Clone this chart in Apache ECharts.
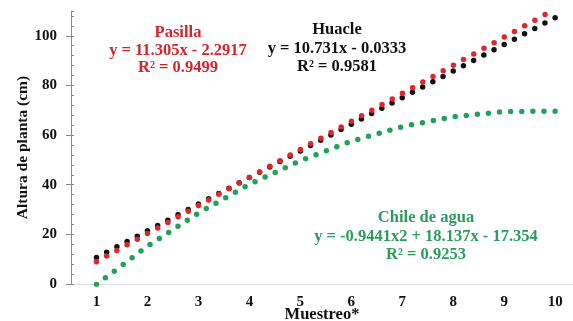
<!DOCTYPE html>
<html>
<head>
<meta charset="utf-8">
<script src="https://cdn.jsdelivr.net/npm/echarts@6/dist/echarts.min.js"></script>
<style>html,body{margin:0;padding:0;background:#fff}#c{width:573px;height:321px}</style>
</head>
<body>
<div id="c"></div>
<script>
// Data
const muestreo = [1, 2, 3, 4, 5, 6, 7, 8, 9, 10];
const huacle = [10.7, 21.4, 32.2, 42.9, 53.6, 64.4, 75.1, 85.8, 96.5, 107.3];
const pasilla = [9.0, 20.3, 31.6, 42.9, 54.2, 65.5, 76.8, 88.1, 99.5, 110.8];
const chileAgua = [-0.2, 15.2, 28.6, 40.1, 49.7, 57.5, 63.4, 67.4, 69.5, 69.6];
const yTicks = [0, 20, 40, 60, 80, 100];
const pasillaText = ['Pasilla', 'y = 11.305x - 2.2917', 'R² = 0.9499'];
const huacleText = ['Huacle', 'y = 10.731x - 0.0333', 'R² = 0.9581'];
const chileText = ['Chile de agua', 'y = -0.9441x2 + 18.137x - 17.354', 'R² = 0.9253'];

const FONT = '"Liberation Serif", "DejaVu Serif", serif';
const RED = '#e0262b', BLACK = '#111111', GREEN = '#21a25a';

function pts(ys) { return muestreo.map((x, i) => [x, ys[i]]); }
function dotted(name, ys, color, gap) {
  return {
    name, type: 'line', data: pts(ys), showSymbol: false, smooth: false,
    clip: true, silent: true,
    lineStyle: { color, width: 5.5, type: [0, gap], cap: 'round' }
  };
}
function block(lines, color, cx, y0, dy) {
  return lines.map((t, i) => ({
    type: 'text', x: cx, y: y0 + i * dy,
    style: { text: t, fill: color, font: 'bold 16.5px ' + FONT, textAlign: 'center', textVerticalAlign: 'middle' }
  }));
}

const chart = echarts.init(document.getElementById('c'), null, { renderer: 'canvas' });
chart.setOption({
  animation: false,
  backgroundColor: '#fff',
  grid: { left: 71, right: 0, top: 11, bottom: 37, containLabel: false, outerBoundsMode: 'none' },
  xAxis: {
    type: 'value', min: 0.5, max: 10.35,
    axisLine: { show: true, lineStyle: { color: '#dddddd', width: 1 } },
    axisTick: { show: false },
    splitLine: { show: false },
    axisLabel: { customValues: muestreo, margin: 11, color: '#111', fontFamily: FONT, fontWeight: 'bold', fontSize: 15 },
    name: 'Muestreo*', nameLocation: 'middle', nameGap: 22, nameMoveOverlap: false,
    nameTextStyle: { color: '#111', fontFamily: FONT, fontWeight: 'bold', fontSize: 16.5 }
  },
  yAxis: [{
    type: 'value', min: 0, max: 110, interval: 20,
    axisLine: { show: true, lineStyle: { color: '#8a8a8a', width: 1 } },
    axisTick: { show: true, customValues: yTicks, length: 5, lineStyle: { color: '#8a8a8a' } },
    splitLine: { show: false },
    axisLabel: { customValues: yTicks, margin: 14, color: '#111', fontFamily: FONT, fontWeight: 'bold', fontSize: 15 },
    name: 'Altura de planta (cm)', nameLocation: 'middle', nameGap: 40, nameRotate: 90, nameMoveOverlap: false,
    nameTextStyle: { color: '#111', fontFamily: FONT, fontWeight: 'bold', fontSize: 15.5 }
  }, {
    type: 'value', min: 0, max: 110, interval: 4, position: 'left',
    axisLine: { show: false },
    axisTick: { show: true, inside: true, length: 3, lineStyle: { color: '#8a8a8a' } },
    axisLabel: { show: false }, splitLine: { show: false }
  }],
  series: [
    dotted('Chile de agua', chileAgua, GREEN, 11.13),
    dotted('Huacle', huacle, BLACK, 11.5),
    dotted('Pasilla', pasilla, RED, 11.64)
  ],
  graphic: [].concat(
    block(pasillaText, '#d0262c', 178, 33, 17.5),
    block(huacleText, '#111111', 337, 30, 18.5),
    block(chileText, '#2a9c5c', 426, 218, 18.5)
  )
});
</script>
</body>
</html>
